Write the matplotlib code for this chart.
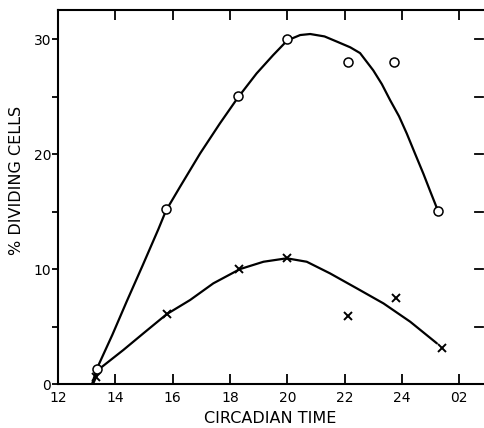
import matplotlib
matplotlib.use("Agg")
import matplotlib.pyplot as plt

# measured points (circadian time, % dividing cells)
circ_t = [13.35, 15.77, 18.28, 20.0, 22.11, 23.74, 25.27]
circ_v = [1.3, 15.2, 25.1, 30.0, 28.0, 28.0, 15.1]

cross_t = [13.32, 15.79, 18.32, 20.0, 22.13, 23.78, 25.4]
cross_v = [0.6, 6.1, 10.0, 11.0, 5.9, 7.45, 3.1]

# hand drawn curves
curve1_t = [13.19, 13.35, 13.9, 14.4, 14.95, 15.5, 15.77, 16.26, 16.96, 17.65,
            18.27, 18.93, 19.51, 20.0, 20.45, 20.8, 21.3, 21.73, 22.2, 22.54,
            23.0, 23.3, 23.59, 23.9, 24.17, 24.45, 24.75, 25.0, 25.27]
curve1_v = [0.0, 1.3, 4.3, 7.2, 10.3, 13.46, 15.1, 17.17, 20.07, 22.68,
            24.9, 27.03, 28.63, 29.9, 30.37, 30.46, 30.25, 29.8, 29.3, 28.8,
            27.3, 26.1, 24.7, 23.3, 21.8, 20.1, 18.3, 16.7, 15.0]

curve2_t = [13.22, 13.47, 14.28, 14.98, 15.79, 16.61, 17.42, 18.35, 19.17,
            19.98, 20.68, 21.49, 22.43, 23.36, 24.29, 25.22]
curve2_v = [0.0, 1.37, 2.96, 4.41, 6.07, 7.31, 8.76, 10.0, 10.64,
            10.94, 10.64, 9.63, 8.32, 7.01, 5.42, 3.54]

xticks = [12, 14, 16, 18, 20, 22, 24, 26]
xticklabels = ["12", "14", "16", "18", "20", "22", "24", "02"]

fig = plt.figure(figsize=(4.85, 4.28), dpi=100)
ax = fig.add_axes([58/485, 44/428, 425/485, 374/428])

ax.plot(curve1_t, curve1_v, color="black", lw=1.6, solid_capstyle="round",
        solid_joinstyle="round")
ax.plot(curve2_t, curve2_v, color="black", lw=1.6, solid_capstyle="round",
        solid_joinstyle="round")
ax.plot(circ_t, circ_v, "o", ms=6.5, mfc="white", mec="black", mew=1.1)
ax.plot(cross_t, cross_v, "x", ms=5.5, color="black", mew=1.4)

ax.set_xlim(12, 26.83)
ax.set_ylim(0, 32.55)

ax.spines["right"].set_visible(False)
for s in ["left", "bottom", "top"]:
    ax.spines[s].set_linewidth(1.5)

ax.set_xticks(xticks)
ax.set_xticklabels(xticklabels)
ax.set_yticks([0, 5, 10, 15, 20, 25, 30])
ax.set_yticklabels(["0", "", "10", "", "20", "", "30"])

ax.tick_params(axis="x", direction="in", length=7, width=1.3, top=True,
               labelsize=10, pad=5)
ax.tick_params(axis="y", direction="out", length=4, width=1.3, labelsize=10,
               pad=1)

# inward ticks on the right side without a spine
for v in [0, 5, 10, 15, 20, 25, 30]:
    ax.plot([26.55, 26.83], [v, v], color="black", lw=1.3, clip_on=False)

ax.set_xlabel("CIRCADIAN TIME", fontsize=11.5)
ax.set_ylabel("% DIVIDING CELLS", fontsize=11.5)
ax.xaxis.set_label_coords(0.499, -0.073)
ax.yaxis.set_label_coords(-0.08, 0.545)

fig.savefig("out.png", dpi=100)
